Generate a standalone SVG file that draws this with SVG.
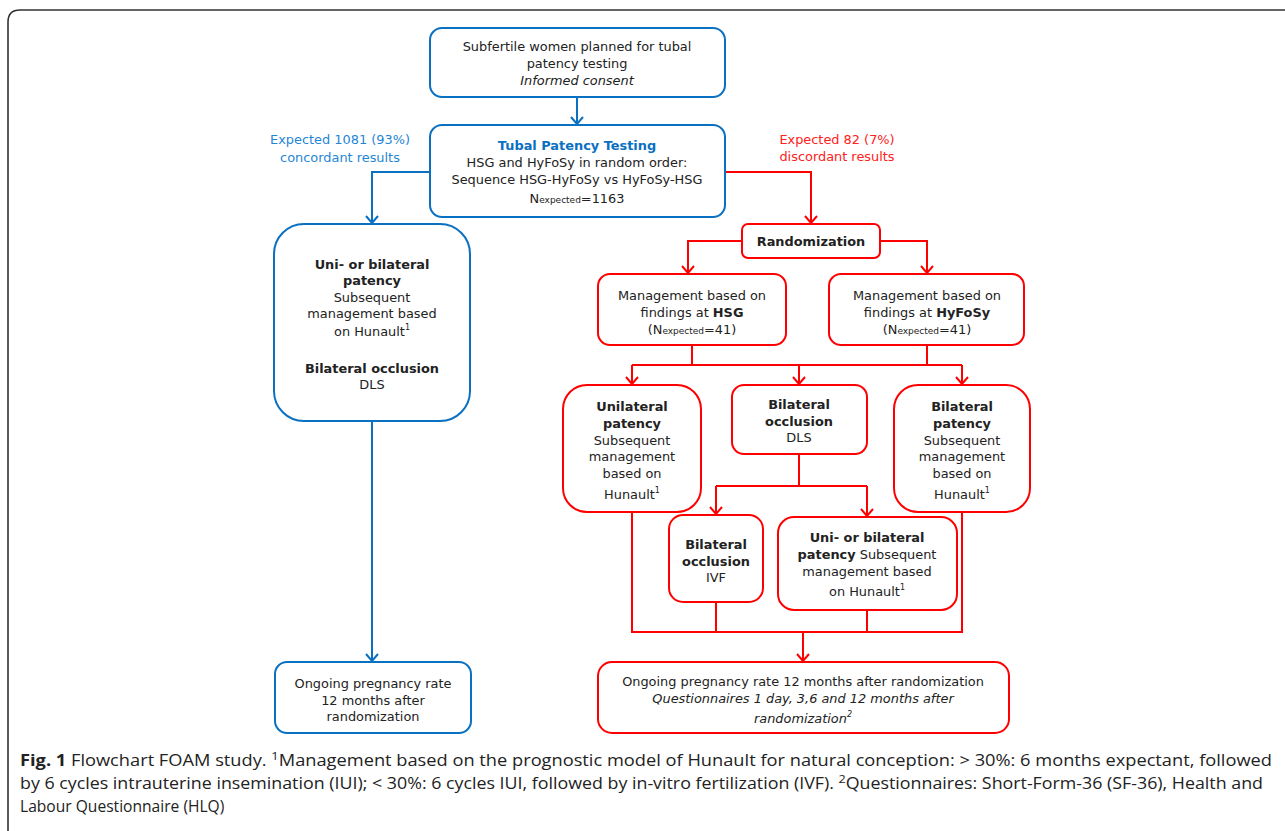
<svg xmlns="http://www.w3.org/2000/svg" width="1285" height="831" viewBox="0 0 1285 831">
<style>
.bb{fill:#fff;stroke:#0a70c2;stroke-width:2}
.rb{fill:#fff;stroke:#ff0000;stroke-width:2}
.t{font-family:"DejaVu Sans",sans-serif;font-size:12.9px;fill:#222;text-anchor:middle}
.b{font-weight:bold}
.i{font-style:italic}
.sub{font-size:9px}
.sup{font-size:8px}
.bl{stroke:#0a70c2;stroke-width:2;fill:none}
.rl{stroke:#ff0000;stroke-width:2;fill:none}
.lab{font-family:"DejaVu Sans",sans-serif;font-size:12.9px;text-anchor:middle}
.cap{font-family:"Open Sans",sans-serif;font-size:15.6px;fill:#222}
</style>
<defs>
<marker id="ab" viewBox="0 0 14 14" refX="7" refY="13" markerWidth="14" markerHeight="14" markerUnits="userSpaceOnUse" orient="0">
<path d="M1,6 L7,13 L13,6" fill="none" stroke="#0a70c2" stroke-width="2"/>
</marker>
<marker id="ar" viewBox="0 0 14 14" refX="7" refY="13" markerWidth="14" markerHeight="14" markerUnits="userSpaceOnUse" orient="0">
<path d="M1,6 L7,13 L13,6" fill="none" stroke="#ff0000" stroke-width="2"/>
</marker>
</defs>
<rect width="1285" height="831" fill="#fff"/>
<path d="M8,835 L8,22 Q8,10 20,10 L1290,10" fill="none" stroke="#333" stroke-width="1.6"/>

<g id="connectors">
<path class="bl" d="M577,97 L577,124" marker-end="url(#ab)"/>
<path class="bl" d="M430,172 L372,172 L372,223" marker-end="url(#ab)"/>
<path class="bl" d="M372,421 L372,661" marker-end="url(#ab)"/>
<path class="rl" d="M725,172 L811,172 L811,223" marker-end="url(#ar)"/>
<path class="rl" d="M742,241 L688,241 L688,273" marker-end="url(#ar)"/>
<path class="rl" d="M880,241 L927,241 L927,273" marker-end="url(#ar)"/>
<path class="rl" d="M692,345 L692,365 M927,345 L927,365 M632,365 L962,365"/>
<path class="rl" d="M632,365 L632,384" marker-end="url(#ar)"/>
<path class="rl" d="M799,365 L799,384" marker-end="url(#ar)"/>
<path class="rl" d="M962,365 L962,384" marker-end="url(#ar)"/>
<path class="rl" d="M799,454 L799,486 M716,486 L867,486"/>
<path class="rl" d="M716,486 L716,514" marker-end="url(#ar)"/>
<path class="rl" d="M867,486 L867,516" marker-end="url(#ar)"/>
<path class="rl" d="M632,512 L632,632 L962,632 L962,512 M716,602 L716,632 M867,610 L867,632"/>
<path class="rl" d="M803,632 L803,661" marker-end="url(#ar)"/>
</g>

<g id="labels">
<text class="lab" fill="#1f86d6"><tspan x="340" y="144">Expected 1081 (93%)</tspan><tspan x="340" y="162">concordant results</tspan></text>
<text class="lab" fill="#ff2020"><tspan x="837" y="144">Expected 82 (7%)</tspan><tspan x="837" y="161">discordant results</tspan></text>
</g>

<g id="n1">
<rect class="bb" x="430" y="28" width="295" height="69" rx="12"/>
<text class="t"><tspan x="577" y="50.5">Subfertile women planned for tubal</tspan><tspan x="577" y="67.5">patency testing</tspan><tspan x="577" y="84.5" class="i">Informed consent</tspan></text>
</g>

<g id="n2">
<rect class="bb" x="430" y="125" width="295" height="92" rx="12"/>
<text class="t"><tspan x="577" y="150" class="b" fill="#0a70c2">Tubal Patency Testing</tspan><tspan x="577" y="167">HSG and HyFoSy in random order:</tspan><tspan x="577" y="184">Sequence HSG-HyFoSy vs HyFoSy-HSG</tspan><tspan x="577" y="203">N<tspan class="sub">expected</tspan>=1163</tspan></text>
</g>

<g id="n3">
<rect class="bb" x="274" y="224" width="196" height="197" rx="30"/>
<text class="t"><tspan x="372" y="269" class="b">Uni- or bilateral</tspan><tspan x="372" y="285" class="b">patency</tspan><tspan x="372" y="302">Subsequent</tspan><tspan x="372" y="318">management based</tspan><tspan x="372" y="336">on Hunault<tspan class="sup" dy="-6">1</tspan></tspan><tspan x="372" y="373" class="b">Bilateral occlusion</tspan><tspan x="372" y="389">DLS</tspan></text>
</g>

<g id="n4">
<rect class="bb" x="275" y="662" width="196" height="71" rx="12"/>
<text class="t"><tspan x="373" y="688">Ongoing pregnancy rate</tspan><tspan x="373" y="705">12 months after</tspan><tspan x="373" y="721">randomization</tspan></text>
</g>

<g id="n5">
<rect class="rb" x="742" y="224" width="138" height="34" rx="6"/>
<text class="t b" x="811" y="246">Randomization</text>
</g>

<g id="n6">
<rect class="rb" x="598" y="274" width="188" height="71" rx="12"/>
<text class="t"><tspan x="692" y="300">Management based on</tspan><tspan x="692" y="317">findings at <tspan class="b">HSG</tspan></tspan><tspan x="692" y="334">(N<tspan class="sub">expected</tspan>=41)</tspan></text>
</g>

<g id="n7">
<rect class="rb" x="829" y="274" width="195" height="71" rx="12"/>
<text class="t"><tspan x="927" y="300">Management based on</tspan><tspan x="927" y="317">findings at <tspan class="b">HyFoSy</tspan></tspan><tspan x="927" y="334">(N<tspan class="sub">expected</tspan>=41)</tspan></text>
</g>

<g id="n8">
<rect class="rb" x="563" y="385" width="138" height="127" rx="24"/>
<text class="t"><tspan x="632" y="411" class="b">Unilateral</tspan><tspan x="632" y="428" class="b">patency</tspan><tspan x="632" y="445">Subsequent</tspan><tspan x="632" y="461">management</tspan><tspan x="632" y="478">based on</tspan><tspan x="632" y="499">Hunault<tspan class="sup" dy="-6">1</tspan></tspan></text>
</g>

<g id="n9">
<rect class="rb" x="732" y="385" width="135" height="69" rx="12"/>
<text class="t"><tspan x="799" y="409" class="b">Bilateral</tspan><tspan x="799" y="426" class="b">occlusion</tspan><tspan x="799" y="442">DLS</tspan></text>
</g>

<g id="n10">
<rect class="rb" x="894" y="385" width="136" height="127" rx="24"/>
<text class="t"><tspan x="962" y="411" class="b">Bilateral</tspan><tspan x="962" y="428" class="b">patency</tspan><tspan x="962" y="445">Subsequent</tspan><tspan x="962" y="461">management</tspan><tspan x="962" y="478">based on</tspan><tspan x="962" y="499">Hunault<tspan class="sup" dy="-6">1</tspan></tspan></text>
</g>

<g id="n11">
<rect class="rb" x="669" y="515" width="94" height="87" rx="14"/>
<text class="t"><tspan x="716" y="549" class="b">Bilateral</tspan><tspan x="716" y="566" class="b">occlusion</tspan><tspan x="716" y="582">IVF</tspan></text>
</g>

<g id="n12">
<rect class="rb" x="778" y="517" width="179" height="93" rx="16"/>
<text class="t"><tspan x="867" y="542" class="b">Uni- or bilateral</tspan><tspan x="867" y="559"><tspan class="b">patency</tspan> Subsequent</tspan><tspan x="867" y="576">management based</tspan><tspan x="867" y="596">on Hunault<tspan class="sup" dy="-6">1</tspan></tspan></text>
</g>

<g id="n13">
<rect class="rb" x="598" y="662" width="411" height="71" rx="14"/>
<text class="t"><tspan x="803" y="686">Ongoing pregnancy rate 12 months after randomization</tspan><tspan x="803" y="703" class="i">Questionnaires 1 day, 3,6 and 12 months after</tspan><tspan x="803" y="723" class="i">randomization<tspan class="sup" dy="-6">2</tspan></tspan></text>
</g>

<g id="caption">
<text class="cap" x="20" y="766" textLength="1252" lengthAdjust="spacingAndGlyphs"><tspan font-weight="bold">Fig. 1</tspan> Flowchart FOAM study. <tspan font-size="11" dy="-6">1</tspan><tspan dy="6">Management based on the prognostic model of Hunault for natural conception: &gt; 30%: 6 months expectant, followed</tspan></text>
<text class="cap" x="20" y="789" textLength="1243" lengthAdjust="spacingAndGlyphs">by 6 cycles intrauterine insemination (IUI); &lt; 30%: 6 cycles IUI, followed by in-vitro fertilization (IVF). <tspan font-size="11" dy="-6">2</tspan><tspan dy="6">Questionnaires: Short-Form-36 (SF-36), Health and</tspan></text>
<text class="cap" x="20" y="812">Labour Questionnaire (HLQ)</text>
</g>
</svg>
